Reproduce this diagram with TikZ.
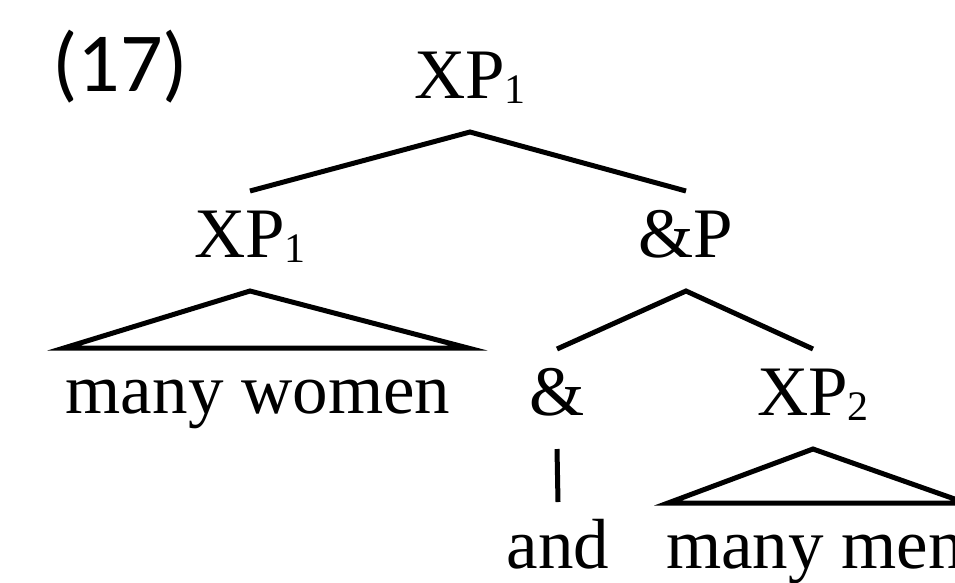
\documentclass[tikz,border=0pt]{standalone}
\usepackage{fontspec}
\setmainfont{Liberation Serif}
\newfontfamily\exfont{Carlito}
\usetikzlibrary{positioning}
\tikzset{
		x=1pt, y=-1pt,
		cat/.style={anchor=base, inner sep=0pt, text height=48pt, text depth=16pt, outer ysep=18pt, font=\fontsize{71}{80}\selectfont},
		branch/.style={line width=5pt, black}
	}
\newcommand{\catsub}[1]{\raisebox{-5pt}{\fontsize{42}{42}\selectfont #1}}

\begin{document}
\begin{tikzpicture}
		\useasboundingbox (0,0) rectangle (955,582);
		\clip (0,0) rectangle (955,582);
		\node[anchor=base west, inner sep=0pt, font=\exfont\fontsize{84}{90}\selectfont] (exno) at (52,91) {(17)};
		\node[cat] (top) at (470,98) {XP\catsub{1}};
		\node[cat] (xpa) at (250,257) {XP\catsub{1}}; \node[cat] (andp) at (686,257) {\&P};
		\node[cat] (women) at (258,413) {many women};
		\node[cat] (amp) at (557,415) {\&}; \node[cat] (xpb) at (813,415) {XP\catsub{2}};
		\node[cat] (and) at (558,568) {and}; \node[cat] (men) at (815,568) {many men};
		\coordinate (wl) at (64,348); \coordinate (wr) at (468,348);
		\coordinate (ml) at (668,503); \coordinate (mr) at (966,503);
		\draw[branch] (xpa.north) -- (top.south) -- (andp.north);
		\draw[branch] (xpa.south) -- (wl) -- (wr) -- cycle;
		\draw[branch] (amp.north) -- (andp.south) -- (xpb.north);
		\draw[branch] (amp.south) -- (and.north);
		\draw[branch] (xpb.south) -- (ml) -- (mr) -- cycle;
	\end{tikzpicture}
\end{document}
